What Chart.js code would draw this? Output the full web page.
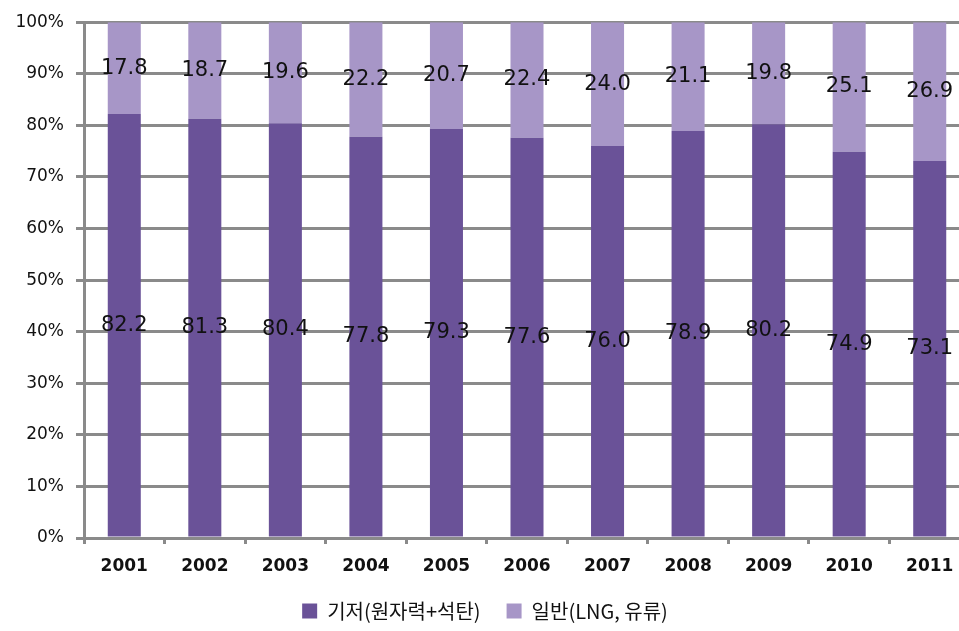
<!DOCTYPE html>
<html>
<head>
<meta charset="utf-8">
<script src="https://cdn.jsdelivr.net/npm/chart.js@4/dist/chart.umd.min.js"></script>
<style>
  html, body { margin: 0; padding: 0; background: #fff; overflow: hidden; }
  #wrap { width: 970px; height: 631px; }
</style>
</head>
<body>
<div id="wrap"><canvas id="shareChart"></canvas></div>
<script>
const years = ["2001", "2002", "2003", "2004", "2005", "2006", "2007", "2008", "2009", "2010", "2011"];
const baseLoad = [82.2, 81.3, 80.4, 77.8, 79.3, 77.6, 76.0, 78.9, 80.2, 74.9, 73.1];
const general = [17.8, 18.7, 19.6, 22.2, 20.7, 22.4, 24.0, 21.1, 19.8, 25.1, 26.9];
const yTicks = [0, 10, 20, 30, 40, 50, 60, 70, 80, 90, 100];

const gridGrey = "#8a8a8a";
const tickFont = "'DejaVu Sans', sans-serif";

// draw each value in the middle of its segment
const segmentLabels = {
  id: "segmentLabels",
  afterDatasetsDraw(chart) {
    const ctx = chart.ctx;
    ctx.save();
    ctx.font = "21px 'DejaVu Sans', sans-serif";
    ctx.fillStyle = "#111";
    ctx.textAlign = "center";
    ctx.textBaseline = "middle";
    chart.data.datasets.forEach((ds, i) => {
      chart.getDatasetMeta(i).data.forEach((bar, j) => {
        const mid = (bar.y + bar.base) / 2;
        ctx.fillText(ds.data[j].toFixed(1), bar.x, mid);
      });
    });
    ctx.restore();
  },
};

const ctx = document.getElementById("shareChart");
new Chart(ctx, {
  type: "bar",
  data: {
    labels: years,
    datasets: [
      {
        label: "기저(원자력+석탄)",
        data: baseLoad,
        backgroundColor: "#6a5298",
        barPercentage: 0.41,
        categoryPercentage: 1,
      },
      {
        label: "일반(LNG, 유류)",
        data: general,
        backgroundColor: "#a796c7",
        barPercentage: 0.41,
        categoryPercentage: 1,
      },
    ],
  },
  options: {
    responsive: true,
    maintainAspectRatio: false,
    animation: false,
    layout: { padding: { top: 12, right: 0, left: 0, bottom: 0 } },
    plugins: {
      legend: {
        position: "bottom",
        labels: {
          boxWidth: 15,
          boxHeight: 15,
          padding: 26,
          color: "#111",
          font: { size: 20, family: "'Noto Sans CJK KR', sans-serif" },
        },
      },
      tooltip: { enabled: false },
    },
    scales: {
      x: {
        stacked: true,
        afterFit: (s) => { s.height = 37; },
        grid: {
          display: true,
          drawOnChartArea: false,
          offset: true,
          color: gridGrey,
          lineWidth: 3,
          tickLength: 6,
        },
        border: { color: gridGrey, width: 3 },
        ticks: {
          color: "#111",
          padding: 12,
          font: { size: 17, weight: "bold", family: tickFont },
        },
      },
      y: {
        stacked: true,
        min: 0,
        max: 100,
        afterFit: (s) => { s.width = 84; },
        afterBuildTicks: (s) => { s.ticks = yTicks.map((v) => ({ value: v })); },
        grid: {
          color: gridGrey,
          lineWidth: 3,
          tickLength: 8,
        },
        border: { color: gridGrey, width: 3 },
        ticks: {
          color: "#111",
          padding: 12,
          font: { size: 17, family: tickFont },
          callback: (v) => v + "%",
        },
      },
    },
  },
  plugins: [segmentLabels],
});
</script>
</body>
</html>
